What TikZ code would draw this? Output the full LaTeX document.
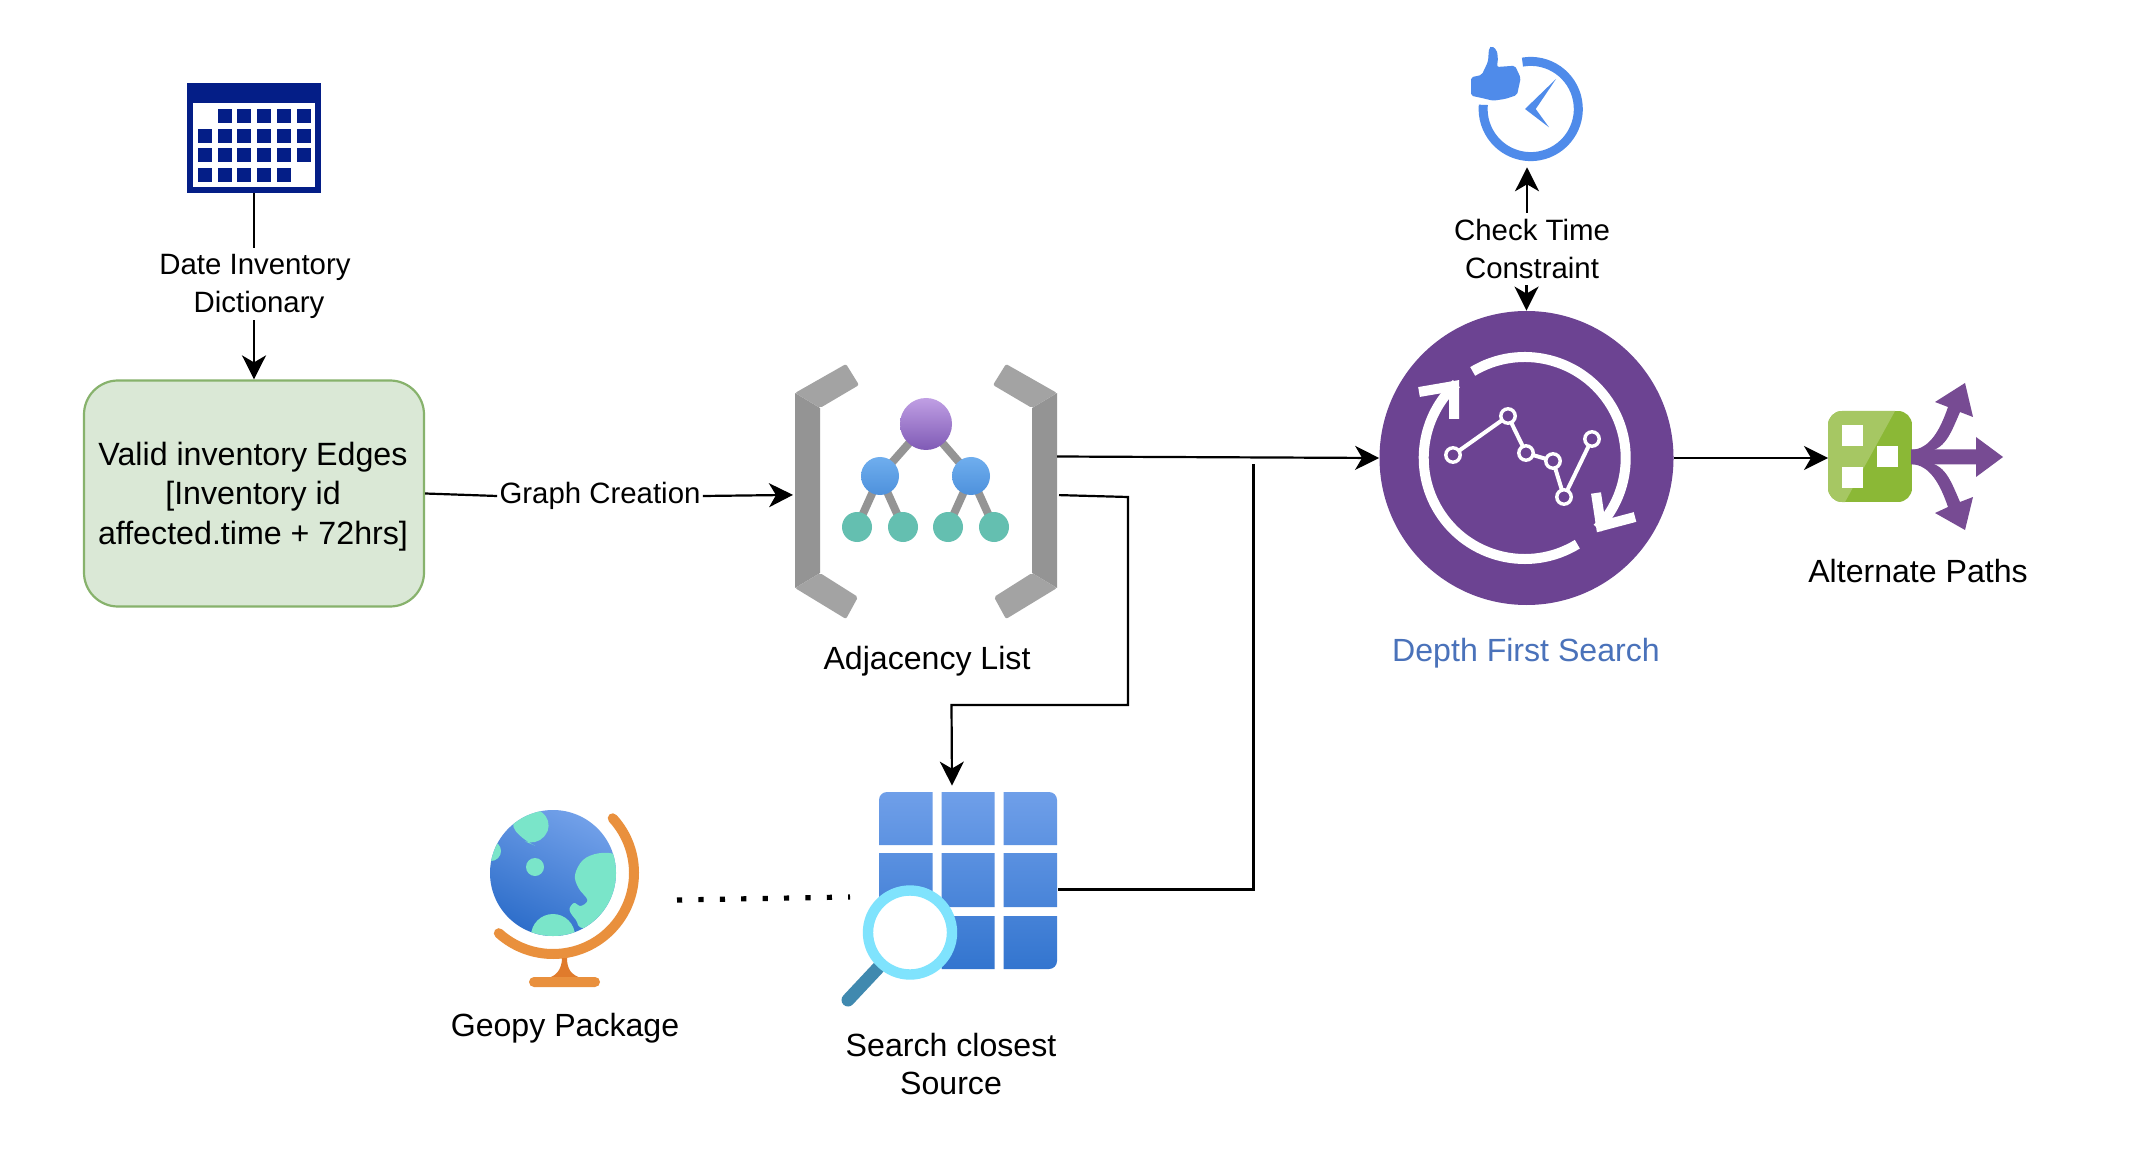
\documentclass[tikz,border=0pt]{standalone}
\usepackage{fontspec}
\setmainfont{Liberation Sans}
\usetikzlibrary{arrows.meta,calc}
\definecolor{calblue}{HTML}{041E87}
\definecolor{boxfill}{HTML}{DAE8D6}
\definecolor{boxline}{HTML}{87B26C}
\definecolor{brkdark}{HTML}{949494}
\definecolor{brklight}{HTML}{A3A3A3}
\definecolor{purptop}{HTML}{C09FE4}
\definecolor{purpbot}{HTML}{7F5AB5}
\definecolor{bluetop}{HTML}{6FAEEE}
\definecolor{bluebot}{HTML}{4E91DC}
\definecolor{tealc}{HTML}{64BFB0}
\definecolor{dfspurple}{HTML}{6C4392}
\definecolor{dfstext}{HTML}{4A72BA}
\definecolor{clockblue}{HTML}{4F8BEA}
\definecolor{gdark}{HTML}{8BB836}
\definecolor{glight}{HTML}{A6C763}
\definecolor{arrowpurple}{HTML}{774B93}
\definecolor{tabletop}{HTML}{6F9FE9}
\definecolor{tablebot}{HTML}{3375CF}
\definecolor{lensc}{HTML}{7FE3FD}
\definecolor{handlec}{HTML}{4089AF}
\definecolor{globetop}{HTML}{74A2EA}
\definecolor{globebot}{HTML}{2B6CC9}
\definecolor{landc}{HTML}{7AE5C9}
\definecolor{standc}{HTML}{E9903D}
\definecolor{neckc}{HTML}{E07B2C}
\tikzset{
  conn/.style={line width=1.1pt,black},
  arr/.style={conn,-{Stealth[length=12pt,width=12pt,inset=3.5pt]}},
  lab/.style={font=\fontsize{14.7}{19}\selectfont,align=center,inner sep=1pt,text=black},
  captext/.style={font=\fontsize{16.05}{19.2}\selectfont,align=center,inner sep=0pt,text=black},
  iconbox/.style={inner sep=0pt,outer sep=0pt,draw=none,fill=none},
  vboxnode/.style={rectangle,rounded corners=17pt,draw=boxline,fill=boxfill,line width=1.1pt,inner sep=0pt,minimum width=170pt,minimum height=113pt},
}
\begin{document}
\begin{tikzpicture}[x=0.5pt,y=0.5pt]
\useasboundingbox (0,0) rectangle (2134,-1170);
\fill[white] (0,0) rectangle (2134,-1170);

% ---------- calendar
\node[iconbox,minimum width=67pt,minimum height=55pt] (cal) at (254,-138) {};
\fill[calblue] (187,-83) rectangle (321,-193);
\fill[white] (193,-103) rectangle (315,-187);
\foreach \yy/\first/\last in {109/2/6,129/1/6,148.5/1/6,168/1/5}{
  \foreach \cc in {\first,...,\last}{
    \fill[calblue] ({198+(\cc-1)*19.7},-\yy) rectangle ({212+(\cc-1)*19.7},{-\yy-13.6});
  }
}

% ---------- valid inventory box
\node[vboxnode] (valid) at (254,-493.5) {};
\node[captext,font=\fontsize{16.1}{19.6}\selectfont] (validlab) at (253,-496.5)
  {Valid inventory Edges\\{[}Inventory id\\affected.time + 72hrs]};
\node[lab,minimum height=36pt] (datelab) at (255,-286.5) {Date Inventory\\\hspace*{4pt}Dictionary};
\draw[conn] (cal.south) -- ([yshift=1pt]datelab.north -| cal.south);
\draw[arr] ([yshift=1.2pt]datelab.south -| cal.south) -- (valid.north);

% ---------- adjacency list icon
\node[iconbox,minimum width=131pt,minimum height=126.5pt] (adj) at (926,-491.5) {};
\foreach \mx/\sg in {0/1,1852/-1}{
  \begin{scope}[shift={(\mx,0)},x={(\sg*0.5pt,0)}]
    \fill[brkdark] (795,-393) -- (820,-408) -- (820,-573) -- (795,-588) -- cycle;
    \fill[brklight,rounded corners=1pt] (795,-393) -- (846,-364) -- (859,-385) -- (820,-408) -- cycle;
    \fill[brklight,rounded corners=1pt] (795,-588) -- (820,-573) -- (858,-597) -- (846,-619) -- cycle;
  \end{scope}
}
\draw[brkdark,line width=4pt]
  (926,-424) -- (880,-476) -- (857,-527)
  (880,-476) -- (903,-527)
  (926,-424) -- (971,-476) -- (948,-527)
  (971,-476) -- (994,-527);
\shade[top color=purptop,bottom color=purpbot] (926,-424) circle[radius=13pt];
\shade[top color=bluetop,bottom color=bluebot] (880,-476) circle[radius=9.5pt];
\shade[top color=bluetop,bottom color=bluebot] (971,-476) circle[radius=9.5pt];
\foreach \xx in {857,903,948,994}{\fill[tealc] (\xx,-527) circle[radius=7.5pt];}
\node[captext] (adjlab) at (927,-661.5) {Adjacency List};

\node[lab] (graphlab) at (600,-496) {Graph Creation};
\draw[conn] (valid.east) -- (graphlab.west);
\draw[arr] (graphlab.east) -- ([shift={(-1pt,-1.7pt)}]adj.west);

% ---------- DFS
\node[circle,fill=dfspurple,inner sep=0pt,minimum size=147pt] (dfs) at (1526.5,-458) {};
\begin{scope}[white]
  \draw[line width=5pt] (1524.7,-458) ++(121:50.5pt) arc[start angle=121,end angle=-44,radius=50.5pt];
  \draw[line width=5pt] (1524.7,-458) ++(-58.6:50.5pt) arc[start angle=-58.6,end angle=-227.4,radius=50.5pt];
  \draw[line width=5pt,miter limit=10] (1596,-493) -- (1601,-526) -- (1635,-517);
  \draw[line width=5pt,miter limit=10] (1419,-392) -- (1454,-386) -- (1454,-419);
  \draw[line width=2pt] (1453,-455) -- (1508,-416) -- (1526,-453) -- (1553,-461) -- (1564,-497) -- (1592,-439);
  \foreach \xx/\yy in {1453/455,1508/416,1526/453,1553/461,1564/497,1592/439}{
    \draw[line width=1.7pt,fill=dfspurple] (\xx,-\yy) circle[radius=3.6pt];
  }
\end{scope}
\node[captext,text=dfstext] (dfslab) at (1526,-653.5) {Depth First Search};

% ---------- clock
\node[iconbox,minimum width=56pt,minimum height=58pt] (clock) at (1527,-109.3) {};
\draw[clockblue,line width=4.5pt] (1530.7,-109) ++(100:23.8pt) arc[start angle=100,end angle=-185,radius=23.8pt];
\fill[clockblue] (1556,-79) -- (1525,-109) -- (1549,-127.3) -- (1535.7,-109) -- cycle;
\fill[clockblue,rounded corners=1pt] (1471,-77.3) -- (1481.7,-75) -- (1488,-61.7) -- (1489,-48) -- (1491.7,-46) -- (1496.7,-50) -- (1498,-58) -- (1497,-67) -- (1515,-65.7) -- (1520.7,-78) -- (1517,-95) -- (1505,-99) -- (1493,-100.7) -- (1481.7,-98) -- (1471,-95.7) -- cycle;
\node[lab,minimum height=36pt] (checklab) at (1532,-249) {Check Time\\Constraint};
\draw[arr] (checklab.north -| clock.south) -- (clock.south);
\draw[arr] (checklab.south -| dfs.north) -- (dfs.north);

% ---------- alternate paths icon
\node[iconbox,minimum width=42pt,minimum height=45.5pt] (alt) at (1870,-458) {};
\begin{scope}
  \clip[rounded corners=7pt] (1828,-411) rectangle (1912,-502);
  \fill[gdark] (1828,-411) rectangle (1912,-502);
  \fill[glight] (1828,-411) -- (1895,-411) -- (1845,-502) -- (1828,-502) -- cycle;
\end{scope}
\fill[white] (1842,-425) rectangle (1863,-446);
\fill[white] (1877,-446) rectangle (1898,-467);
\fill[white] (1842,-467) rectangle (1863,-488);
\fill[arrowpurple] (1911,-449.5) -- (1976,-449.5) -- (1976,-437) -- (2003,-457) -- (1976,-477) -- (1976,-464.5) -- (1911,-464.5) -- cycle;
\fill[arrowpurple] (1911,-450) .. controls (1930,-449) and (1940,-430) .. (1948,-407) -- (1935,-402) -- (1965,-383) -- (1973,-417) -- (1960,-412) .. controls (1950,-435) and (1945,-450) .. (1925,-452) -- cycle;
\fill[arrowpurple] (1911,-464) .. controls (1930,-465) and (1940,-484) .. (1948,-507) -- (1935,-513) -- (1965,-530) -- (1973,-497) -- (1960,-502) .. controls (1950,-479) and (1945,-464) .. (1925,-462) -- cycle;
\node[captext] (altlab) at (1918,-571) {Alternate Paths};
\draw[arr] (dfs.east) -- (alt.west);

% ---------- table with magnifier
\node[iconbox,minimum width=89pt,minimum height=88.5pt] (tbl) at (968,-880.5) {};
\begin{scope}
  \clip[rounded corners=4pt] (879,-792) rectangle (1057,-969);
  \clip (879,-792) rectangle (932.5,-845) (941.5,-792) rectangle (994.5,-845) (1003.5,-792) rectangle (1057,-845)
        (879,-853) rectangle (932.5,-907) (941.5,-853) rectangle (994.5,-907) (1003.5,-853) rectangle (1057,-907)
        (879,-916) rectangle (932.5,-969) (941.5,-916) rectangle (994.5,-969) (1003.5,-916) rectangle (1057,-969);
  \shade[top color=tabletop,bottom color=tablebot] (879,-792) rectangle (1057,-969);
\end{scope}
\draw[handlec,line width=6.5pt,line cap=round] (878,-968) -- (848,-1000);
\draw[lensc,line width=5.2pt,fill=white] (910,-932.5) circle[radius=21pt];
\node[captext] (tbllab) at (951,-1064) {Search closest\\Source};

% ---------- globe
\node[iconbox,minimum width=70pt,minimum height=85pt] (globe) at (568,-900) {};
\begin{scope}
  \clip (553,-873) circle[radius=31.5pt];
  \shade[top color=globetop,bottom color=globebot,shading angle=-25] (485,-805) rectangle (621,-941);
  \fill[landc,rounded corners=6pt] (508,-822) -- (537,-805) -- (553,-826) -- (536,-846) -- (524,-841) -- cycle;
  \fill[landc] (491,-851) circle[radius=5pt];
  \fill[landc] (535,-867) circle[radius=4.5pt];
  \fill[landc] plot[smooth cycle,tension=0.6] coordinates {(598.6,-853.3) (583,-860) (575,-875) (578.5,-888) (587.4,-900) (580.7,-906) (574,-903) (569.5,-910) (576,-920) (584,-928) (621,-920) (625,-870) (616,-855)};
  \fill[landc] (553,-936) circle[radius=11pt];
\end{scope}
\draw[standc,line width=5pt,line cap=round] (553,-873) ++(42.5:40.5pt) arc[start angle=42.5,end angle=-132,radius=40.5pt];
\fill[neckc] (562,-958) .. controls (562,-970) and (555,-977) .. (547,-978) -- (581,-978) .. controls (572,-975) and (567,-970) .. (567,-958) -- cycle;
\fill[standc,rounded corners=2.5pt] (529,-977) rectangle (600,-987);
\node[captext] (geolab) at (565,-1028.5) {Geopy Package};

% ---------- connectors at the table
\draw[arr] ([shift={(0pt,17.5pt)}]adj.east) -- (dfs.west);
\coordinate (bendA) at (1128,-705);
\coordinate (bendB) at (951.5,-705);
\draw[arr] ([shift={(1pt,-1.8pt)}]adj.east) -- (1128,-497) -- (bendA) -- (bendB) -- ([shift={(-8pt,3.2pt)}]tbl.north);
\coordinate (joinpt) at (1253.5,-464);
\draw[conn] ([shift={(0.5pt,-4.5pt)}]tbl.east) -| (joinpt);
\coordinate (dotA) at (677,-900);
\coordinate (dotB) at (850,-897);
\draw[line width=2.6pt,dash pattern=on 2.6pt off 8.1pt] (dotA) -- (dotB);
\end{tikzpicture}
\end{document}
